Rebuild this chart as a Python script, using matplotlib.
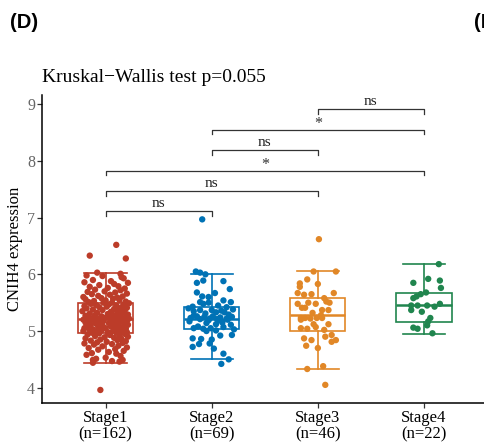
import matplotlib
matplotlib.use("Agg")
import matplotlib.pyplot as plt

# ---------------- data ----------------
categories = ["Stage1", "Stage2", "Stage3", "Stage4"]
tick_labels = ["Stage1\n(n=162)", "Stage2\n(n=69)", "Stage3\n(n=46)", "Stage4\n(n=22)"]
colors = ["#BC3C29", "#0072B5", "#E18727", "#20854E"]

# box statistics
whislo = [4.44, 4.50, 4.33, 4.95]
q1 = [4.97, 5.04, 5.00, 5.16]
med = [5.21, 5.22, 5.28, 5.46]
q3 = [5.49, 5.42, 5.59, 5.67]
whishi = [6.03, 6.00, 6.06, 6.18]

# jittered points (values and horizontal jitter offsets)
y1 = [6.52, 6.33, 6.28, 6.03, 6.01, 5.98, 5.97, 5.95, 5.93, 5.90,
      5.88, 5.86, 5.85, 5.83, 5.81, 5.79, 5.78, 5.76, 5.75, 5.73,
      5.72, 5.70, 5.69, 5.68, 5.66, 5.65, 5.64, 5.62, 5.61, 5.60,
      5.59, 5.58, 5.57, 5.56, 5.55, 5.54, 5.53, 5.52, 5.51, 5.50,
      5.50, 5.49, 5.48, 5.47, 5.47, 5.46, 5.45, 5.44, 5.43, 5.42,
      5.42, 5.41, 5.40, 5.39, 5.38, 5.37, 5.37, 5.36, 5.35, 5.34,
      5.33, 5.32, 5.32, 5.31, 5.30, 5.29, 5.28, 5.28, 5.27, 5.26,
      5.26, 5.25, 5.24, 5.24, 5.23, 5.23, 5.22, 5.22, 5.22, 5.21,
      5.21, 5.20, 5.20, 5.19, 5.19, 5.18, 5.18, 5.17, 5.17, 5.16,
      5.15, 5.15, 5.14, 5.13, 5.13, 5.12, 5.11, 5.11, 5.10, 5.09,
      5.09, 5.08, 5.07, 5.07, 5.06, 5.05, 5.05, 5.04, 5.03, 5.03,
      5.02, 5.01, 5.01, 5.00, 5.00, 4.99, 4.99, 4.98, 4.98, 4.97,
      4.97, 4.96, 4.95, 4.94, 4.93, 4.92, 4.91, 4.90, 4.89, 4.88,
      4.87, 4.86, 4.85, 4.84, 4.83, 4.82, 4.81, 4.80, 4.79, 4.78,
      4.77, 4.76, 4.74, 4.73, 4.71, 4.70, 4.68, 4.67, 4.65, 4.63,
      4.61, 4.60, 4.58, 4.56, 4.53, 4.51, 4.49, 4.49, 4.47, 4.46,
      4.44, 3.96]
x1 = [0.10, -0.15, 0.19, -0.08, 0.14, -0.18, -0.03, 0.15, 0.17, -0.12,
      0.05, -0.20, 0.21, 0.08, -0.06, 0.12, -0.15, 0.02, 0.18, -0.10,
      0.14, -0.01, -0.17, 0.09, 0.20, -0.13, 0.04, -0.07, 0.16, -0.21,
      0.11, -0.04, 0.07, -0.19, 0.13, 0.00, -0.11, 0.19, -0.16, 0.06,
      -0.02, 0.22, -0.14, 0.03, 0.17, -0.09, 0.10, -0.20, 0.01, 0.15,
      -0.06, 0.20, -0.18, 0.08, -0.12, 0.13, -0.03, 0.18, -0.22, 0.05,
      0.11, -0.08, 0.16, -0.15, 0.02, 0.21, -0.10, 0.07, -0.19, 0.14,
      -0.04, 0.09, -0.17, 0.19, -0.01, 0.12, -0.13, 0.04, 0.22, -0.07,
      0.17, -0.21, 0.06, -0.11, 0.15, -0.02, 0.20, -0.16, 0.10, -0.05,
      0.13, -0.19, 0.03, 0.18, -0.09, 0.08, -0.14, 0.21, -0.03, 0.11,
      -0.18, 0.05, 0.16, -0.07, 0.12, -0.20, 0.00, 0.19, -0.12, 0.09,
      -0.15, 0.14, -0.04, 0.07, -0.21, 0.17, -0.09, 0.02, 0.20, -0.13,
      0.10, -0.06, 0.18, -0.17, 0.04, 0.13, -0.10, 0.21, -0.01, 0.08,
      -0.19, 0.15, -0.05, 0.11, -0.14, 0.19, 0.01, -0.08, 0.16, -0.20,
      0.06, -0.11, 0.12, -0.03, 0.20, -0.16, 0.09, -0.07, 0.17, 0.03,
      -0.13, 0.10, -0.18, 0.14, 0.00, -0.09, -0.12, 0.16, 0.06, 0.13,
      -0.12, -0.05]

y2 = [6.97, 6.05, 6.03, 6.00, 5.89, 5.88, 5.85, 5.74, 5.68, 5.67,
      5.61, 5.60, 5.54, 5.51, 5.51, 5.50, 5.48, 5.45, 5.43, 5.42,
      5.40, 5.38, 5.37, 5.37, 5.36, 5.35, 5.33, 5.33, 5.31, 5.29,
      5.27, 5.26, 5.26, 5.25, 5.25, 5.24, 5.23, 5.22, 5.22, 5.21,
      5.21, 5.20, 5.19, 5.19, 5.17, 5.15, 5.14, 5.12, 5.11, 5.08,
      5.07, 5.05, 5.05, 5.04, 5.03, 5.01, 5.00, 4.93, 4.92, 4.87,
      4.86, 4.85, 4.78, 4.77, 4.72, 4.69, 4.60, 4.50, 4.42]
x2 = [-0.09, -0.15, -0.11, -0.06, -0.08, 0.11, -0.14, 0.17, -0.14, 0.03,
      -0.09, -0.03, 0.11, 0.18, -0.11, -0.03, -0.08, 0.06, -0.18, 0.14,
      -0.22, 0.20, -0.11, 0.00, 0.09, -0.17, 0.04, 0.12, -0.06, 0.16,
      -0.17, -0.14, 0.01, -0.07, 0.19, 0.08, -0.20, -0.02, 0.14, 0.05,
      -0.11, 0.15, -0.03, 0.07, -0.21, 0.10, -0.05, 0.04, 0.18, -0.13,
      0.11, -0.17, -0.01, -0.08, 0.21, 0.04, -0.05, 0.19, 0.08, -0.18,
      -0.10, 0.00, -0.02, -0.12, -0.18, 0.02, 0.11, 0.16, 0.09]

y3 = [6.62, 6.05, 6.05, 5.91, 5.84, 5.83, 5.78, 5.67, 5.67, 5.65,
      5.64, 5.58, 5.52, 5.50, 5.50, 5.48, 5.48, 5.41, 5.41, 5.37,
      5.37, 5.32, 5.28, 5.23, 5.23, 5.23, 5.23, 5.22, 5.20, 5.12,
      5.12, 5.07, 5.05, 5.04, 5.02, 4.93, 4.90, 4.87, 4.84, 4.84,
      4.81, 4.74, 4.70, 4.38, 4.33, 4.05]
x3 = [0.01, -0.04, 0.17, -0.10, -0.17, 0.00, -0.17, -0.19, 0.15, -0.06,
      -0.13, 0.06, 0.08, -0.09, 0.11, -0.19, -0.02, -0.15, -0.12, 0.04,
      0.10, -0.05, 0.03, -0.16, -0.12, -0.01, 0.04, -0.07, -0.16, -0.04,
      0.10, -0.02, -0.16, -0.10, 0.06, 0.13, 0.07, -0.13, -0.06, 0.17,
      0.13, -0.11, 0.00, 0.05, -0.10, 0.07]

y4 = [6.18, 5.92, 5.89, 5.85, 5.76, 5.68, 5.65, 5.61, 5.58, 5.48,
      5.45, 5.45, 5.45, 5.43, 5.37, 5.34, 5.23, 5.17, 5.10, 5.06,
      5.04, 4.96]
x4 = [0.14, 0.04, 0.15, -0.10, 0.16, 0.02, -0.03, -0.07, -0.10, 0.15,
      -0.12, -0.06, 0.03, 0.10, -0.12, -0.02, 0.06, 0.04, 0.03, -0.10,
      -0.06, 0.08]

point_values = [y1, y2, y3, y4]
point_offsets = [x1, x2, x3, x4]

# pairwise comparisons: (group a, group b, bracket height, label)
comp_a = [0, 0, 0, 1, 1, 2]
comp_b = [1, 2, 3, 2, 3, 3]
comp_y = [7.11, 7.47, 7.83, 8.19, 8.55, 8.91]
comp_lab = ["ns", "ns", "*", "ns", "*", "ns"]

title = "Kruskal\u2212Wallis test p=0.055"
ylabel = "CNIH4 expression"

# ---------------- figure ----------------
W, H = 484, 448
fig = plt.figure(figsize=(W / 100, H / 100), dpi=100)
ax = fig.add_axes([42 / W, 45 / H, 1 - 42 / W, (403 - 95) / H])

serif = ["Liberation Serif", "DejaVu Serif"]

positions = list(range(len(categories)))
stats = []
for i in positions:
    stats.append(dict(med=med[i], q1=q1[i], q3=q3[i], whislo=whislo[i],
                      whishi=whishi[i], fliers=[], label=categories[i]))

for i in positions:
    c = colors[i]
    ax.bxp([stats[i]], positions=[i], widths=0.52, capwidths=0.40,
           showfliers=False, patch_artist=True,
           boxprops=dict(facecolor="white", edgecolor=c, linewidth=1.2),
           whiskerprops=dict(color=c, linewidth=1.2),
           capprops=dict(color=c, linewidth=1.2),
           medianprops=dict(color=c, linewidth=1.8),
           manage_ticks=False, zorder=2)
    xs = [i + d for d in point_offsets[i]]
    ax.scatter(xs, point_values[i], s=21, color=c, edgecolors="none", zorder=3)

# significance brackets
tick_len = 0.08
for a, b, yb, lab in zip(comp_a, comp_b, comp_y, comp_lab):
    ax.plot([a, a, b, b], [yb - tick_len, yb, yb, yb - tick_len],
            color="#333333", linewidth=0.9, zorder=4, clip_on=False)
    if lab == "*":
        ax.text((a + b) / 2, yb - 0.04, lab, ha="center", va="bottom",
                fontsize=11.5, family=serif, color="#333333")
    else:
        ax.text((a + b) / 2, yb + 0.02, lab, ha="center", va="bottom",
                fontsize=11, family=serif, color="#222222")

ax.set_xlim(-0.6, 3.566)
ax.set_ylim(3.73, 9.164)
ax.set_yticks([4, 5, 6, 7, 8, 9])
ax.set_yticklabels(["4", "5", "6", "7", "8", "9"], family=serif, fontsize=11.5,
                   color="#666666")
ax.set_xticks(positions)
ax.set_xticklabels(tick_labels, family=serif, fontsize=12, color="black",
                   linespacing=1.0)
ax.tick_params(axis="both", length=3.5, width=0.9, color="#333333", pad=1.5)
ax.set_ylabel(ylabel, family=serif, fontsize=12, labelpad=3)

for s in ["top", "right"]:
    ax.spines[s].set_visible(False)
for s in ["left", "bottom"]:
    ax.spines[s].set_linewidth(1.1)
    ax.spines[s].set_color("black")

fig.text(42 / W, 1 - 82 / H, title, family=serif, fontsize=14, ha="left",
         va="baseline")
fig.text(10 / W, 1 - 28 / H, "(D)", family=["Liberation Sans", "DejaVu Sans"],
         fontsize=14.5, fontweight="bold", ha="left", va="baseline")
fig.text(474 / W, 1 - 28 / H, "(E)", family=["Liberation Sans", "DejaVu Sans"],
         fontsize=14.5, fontweight="bold", ha="left", va="baseline")

fig.savefig("out.png", dpi=100)
